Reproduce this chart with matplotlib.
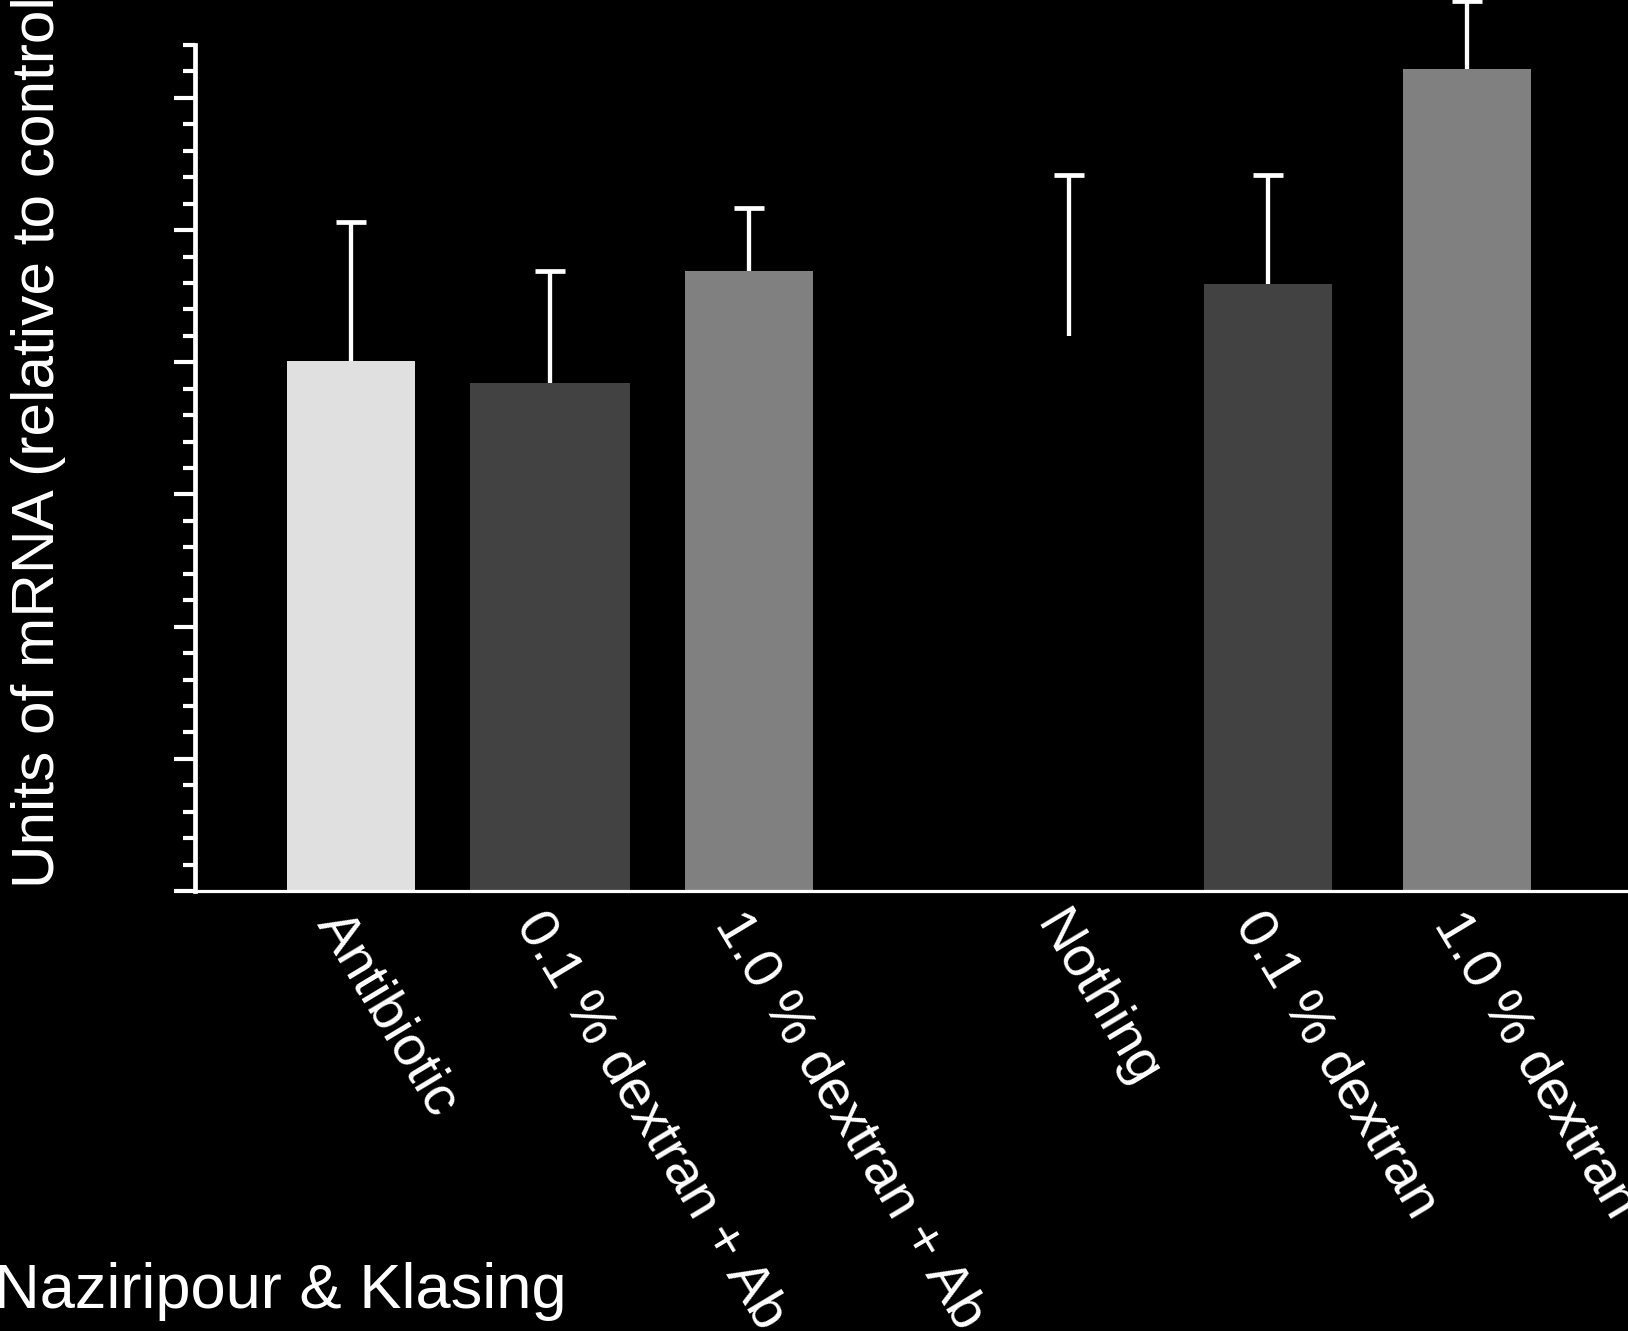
import matplotlib
matplotlib.use("Agg")
import matplotlib.pyplot as plt
from matplotlib.ticker import MultipleLocator, FixedLocator, NullFormatter
import numpy as np

# Treatments, in two groups (with antibiotic / without)
categories = ["Antibiotic", "0.1 % dextran + Ab", "1.0 % dextran + Ab",
              "Nothing", "0.1 % dextran", "1.0 % dextran"]
group_of = [0, 0, 0, 1, 1, 1]
values = [4.01, 3.84, 4.69, 4.20, 4.59, 6.22]
errors = [1.05, 0.85, 0.48, 1.22, 0.83, 0.51]
bar_colors = ["#e0e0e0", "#424242", "#808080", "#000000", "#424242", "#808080"]
bar_widths = [0.643, 0.80, 0.643, 0.643, 0.643, 0.643]

plt.rcParams["font.family"] = ["Liberation Sans", "DejaVu Sans"]

W, H = 1628, 1331
fig = plt.figure(figsize=(W / 100, H / 100), dpi=100, facecolor="black")
ax = fig.add_axes([195 / W, 1 - 891 / H, 1 - 195 / W, (891 - 45) / H])
ax.set_facecolor("black")

group_gap = 0.61
x = np.arange(len(categories)) + group_gap * np.array(group_of)

ax.bar(x, values, width=bar_widths, color=bar_colors, zorder=2)
# Upper-only error bars: keep just the top caps
eb = ax.errorbar(x, values, yerr=[np.zeros(len(errors)), errors], fmt="none",
                 ecolor="white", elinewidth=3.1, capsize=11, capthick=3.4,
                 zorder=3, clip_on=False)
for cap in eb[1]:
    if np.allclose(cap.get_ydata(), values):
        cap.set_visible(False)

ax.set_xlim(-0.784, 6.417)
ax.set_ylim(0, 6.4)

# Spines
for side in ("top", "right"):
    ax.spines[side].set_visible(False)
ax.spines["left"].set_color("white")
ax.spines["left"].set_linewidth(3.4)
ax.spines["bottom"].set_color("white")
ax.spines["bottom"].set_linewidth(2.3)

# Y ticks: unlabelled major every 1, minor every 0.2
ax.yaxis.set_major_locator(MultipleLocator(1))
ax.yaxis.set_minor_locator(MultipleLocator(0.2))
ax.yaxis.set_major_formatter(NullFormatter())
ax.tick_params(axis="y", which="major", length=15, width=3, color="white")
ax.tick_params(axis="y", which="minor", length=8.5, width=3, color="white")

# X ticks: labels at each bar, small marks at group centres
ax.set_xticks(x)
ax.set_xticklabels(categories)
group_centres = [x[np.array(group_of) == g].mean() for g in (0, 1)]
ax.xaxis.set_minor_locator(FixedLocator(group_centres))
ax.tick_params(axis="x", which="major", length=0, pad=9, labelsize=40.5,
               labelcolor="white")
ax.tick_params(axis="x", which="minor", length=3, width=1, color="white")
for lab in ax.get_xticklabels():
    lab.set_rotation(-59)
    lab.set_ha("left")
    lab.set_va("top")
    lab.set_rotation_mode("anchor")

fig.text(39 / W, 1 - 888 / H, "Units of mRNA (relative to control)",
         rotation=90, ha="center", va="bottom", color="white", fontsize=43.5)
fig.text(-6 / W, 1 - 1308 / H, "Naziripour & Klasing", ha="left",
         va="baseline", color="white", fontsize=45.5)

fig.savefig("out.png", dpi=100, facecolor="black")
